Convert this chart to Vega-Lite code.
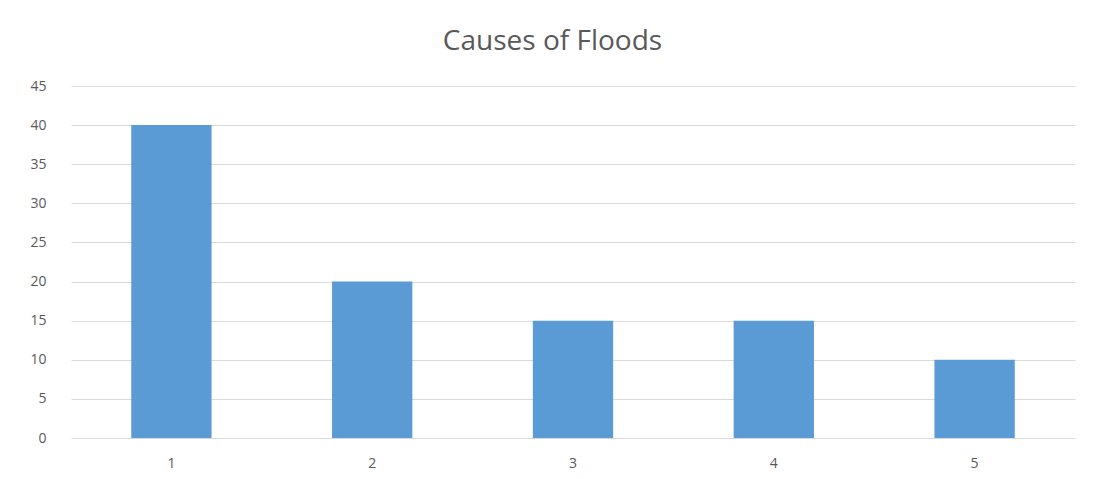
{
  "$schema": "https://vega.github.io/schema/vega-lite/v6.json",
  "autosize": {"type": "none"},
  "width": 1004,
  "height": 352,
  "padding": {"left": 71, "top": 86, "right": 19, "bottom": 41},
  "background": "white",
  "title": {
    "text": "Causes of Floods",
    "font": "Open Sans",
    "fontSize": 28,
    "fontWeight": "normal",
    "color": "#595959",
    "anchor": "middle",
    "frame": "bounds",
    "offset": 23
  },
  "data": {
    "values": [
      {"cause": "1", "value": 40},
      {"cause": "2", "value": 20},
      {"cause": "3", "value": 15},
      {"cause": "4", "value": 15},
      {"cause": "5", "value": 10}
    ]
  },
  "mark": {"type": "bar", "color": "#5b9bd5"},
  "encoding": {
    "x": {
      "field": "cause",
      "type": "ordinal",
      "title": null,
      "scale": {"paddingInner": 0.6, "paddingOuter": 0.3},
      "axis": {
        "labelAngle": 0,
        "domain": false,
        "ticks": false,
        "labelPadding": 18,
        "labelFont": "Open Sans",
        "labelFontSize": 14,
        "labelColor": "#595959"
      }
    },
    "y": {
      "field": "value",
      "type": "quantitative",
      "title": null,
      "scale": {"domain": [0, 45], "nice": false},
      "axis": {
        "values": [0, 5, 10, 15, 20, 25, 30, 35, 40, 45],
        "domain": false,
        "ticks": false,
        "labelPadding": 25,
        "labelAlign": "right",
        "labelFont": "Open Sans",
        "labelFontSize": 14,
        "labelColor": "#595959",
        "gridColor": "#d9d9d9",
        "gridWidth": 1
      }
    }
  },
  "config": {"view": {"stroke": null}}
}
